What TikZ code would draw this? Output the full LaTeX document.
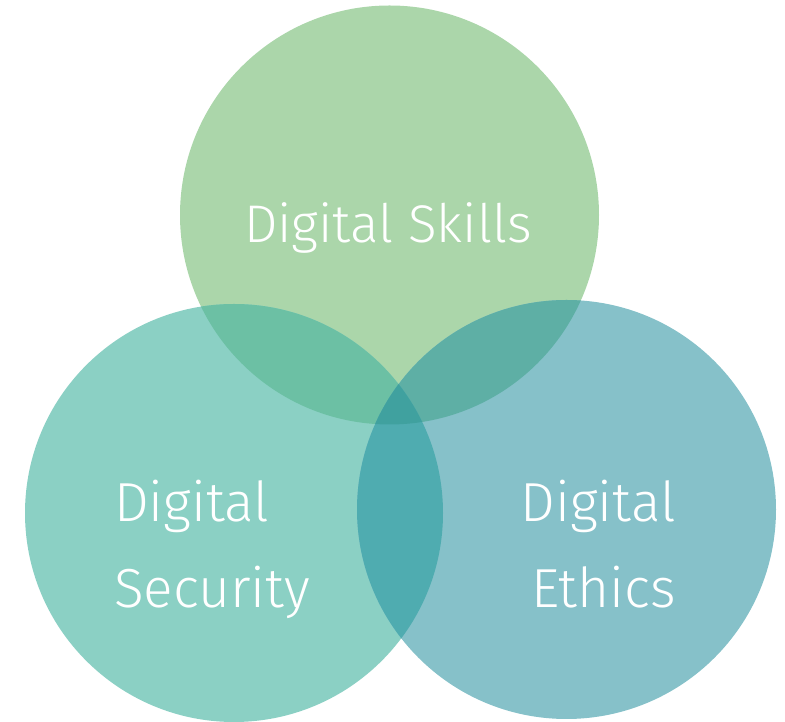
\documentclass[tikz,border=0pt]{standalone}
\usepackage{fontspec}
\setmainfont{Fira Sans Light}
\usepackage{xcolor}
\usepackage{tikz}
\usetikzlibrary{positioning}

\definecolor{skillgreen}{HTML}{ABD6AA}
\definecolor{securteal}{HTML}{8BD0C4}
\definecolor{ethicblue}{HTML}{86C1C9}
\definecolor{skillsecur}{HTML}{6CC0A4}
\definecolor{skillethic}{HTML}{5EAFA5}
\definecolor{securethic}{HTML}{4FACB0}
\definecolor{allthree}{HTML}{40A19F}

\tikzset{
  label/.style={text=white, inner sep=0pt},
  biglabel/.style={label, font=\fontsize{55}{60}\selectfont},
  toplabel/.style={label, font=\fontsize{53}{58}\selectfont}
}

\begin{document}
\begin{tikzpicture}[x=1pt,y=1pt]
\useasboundingbox (0,0) rectangle (785,722);
% circles
\coordinate (skills) at (389.5,507);
\coordinate (secur) at (234,209);
\coordinate (ethic) at (566.5,212.5);
\fill[skillgreen] (skills) circle (209.5);
\fill[securteal] (secur) circle (209);
\fill[ethicblue] (ethic) circle (209.5);
% overlaps
\begin{scope}
\clip (skills) circle (209.5);
\fill[skillsecur] (secur) circle (209);
\fill[skillethic] (ethic) circle (209.5);
\end{scope}
\begin{scope}
\clip (secur) circle (209);
\fill[securethic] (ethic) circle (209.5);
\clip (ethic) circle (209.5);
\fill[allthree] (skills) circle (209.5);
\end{scope}
% labels
\node[toplabel, anchor=base] (skillstext) at (388,479) {Digital Skills};
\node[biglabel, anchor=base west] (securtext1) at (114,200) {Digital};
\node[biglabel, anchor=base west] (securtext2) at (114,114) {Security};
\node[biglabel, anchor=base east] (ethictext1) at (676,200) {Digital};
\node[biglabel, anchor=base east] (ethictext2) at (676,114) {Ethics};
\end{tikzpicture}
\end{document}
